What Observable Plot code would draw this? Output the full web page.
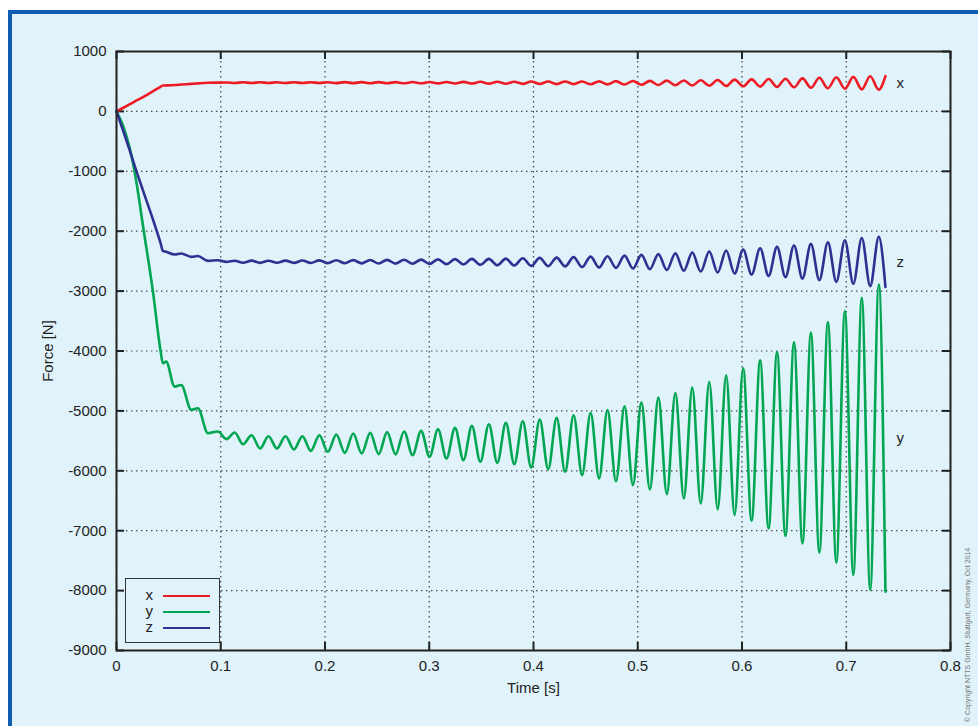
<!DOCTYPE html>
<html>
<head>
<meta charset="utf-8">
<script src="https://cdn.jsdelivr.net/npm/d3@7"></script>
<script src="https://cdn.jsdelivr.net/npm/@observablehq/plot@0.6"></script>
<style>
html, body { margin:0; padding:0; background:#fff; }
#page { position:relative; width:978px; height:726px; overflow:hidden; font-family:"Liberation Sans", Arial, Helvetica, sans-serif; color:#222; }
#panel { position:absolute; left:8px; top:10px; width:1100px; height:900px; border:4px solid #0e5db0; background:#e0f2fa; box-sizing:border-box; }
#chart { position:absolute; left:0; top:0; }
#legend { position:absolute; left:125px; top:578px; width:95px; height:65px; box-sizing:border-box; border:1px solid #333; background:#e0f2fa; }
.lrow { position:absolute; left:0; width:93px; height:16px; }
.llab { position:absolute; left:0; width:27px; text-align:right; font-size:15px; line-height:16px; top:-1px; }
.lline { position:absolute; left:37px; width:47px; top:7px; height:2.6px; }
#copy { position:absolute; left:963px; top:722px; transform-origin:0 0; transform:rotate(-90deg); font-size:7px; color:#777; white-space:nowrap; line-height:9px; }
</style>
</head>
<body>
<div id="page">
  <div id="panel"></div>
  <div id="chart"></div>
  <div id="legend"></div>
  <div id="copy">© Copyright NTTS GmbH, Stuttgart, Germany, Oct 2014</div>
</div>
<script>
const seriesNames = ["x", "y", "z"];
const seriesColors = ["#ed1c24", "#00a651", "#2e3192"];

const xTicks = [0, 0.1, 0.2, 0.3, 0.4, 0.5, 0.6, 0.7, 0.8];
const yTicks = [1000, 0, -1000, -2000, -3000, -4000, -5000, -6000, -7000, -8000, -9000];

const time = [
  0, 0.0065, 0.0125, 0.0173, 0.0262, 0.0349, 0.0423, 0.0445, 0.0477, 0.0557, 0.0621, 0.0717, 0.0781, 0.0877, 0.0973, 0.1054,
  0.1133, 0.1214, 0.1296, 0.1377, 0.1458, 0.1539, 0.1621, 0.1702, 0.1783, 0.1864,
  0.1946, 0.2027, 0.2109, 0.2190, 0.2271, 0.2352, 0.2434, 0.2515, 0.2596, 0.2677,
  0.2759, 0.2840, 0.2922, 0.3003, 0.3084, 0.3165, 0.3247, 0.3328, 0.3409, 0.3490,
  0.3572, 0.3653, 0.3735, 0.3816, 0.3897, 0.3978, 0.4060, 0.4141, 0.4222, 0.4303,
  0.4385, 0.4466, 0.4548, 0.4629, 0.4710, 0.4791, 0.4873, 0.4954, 0.5035, 0.5116,
  0.5198, 0.5279, 0.5361, 0.5442, 0.5523, 0.5604, 0.5686, 0.5767, 0.5848, 0.5929,
  0.6011, 0.6092, 0.6174, 0.6255, 0.6336, 0.6417, 0.6499, 0.6580, 0.6661, 0.6742,
  0.6824, 0.6905, 0.6987, 0.7068, 0.7149, 0.7230, 0.7312, 0.7376
];

const forceX = [
  0, 61, 118, 163, 247, 336, 411, 432, 434, 440, 448, 460, 468, 478, 481, 482,
  474, 486, 474, 486, 474, 486, 473, 487, 473, 487,
  473, 487, 472, 488, 472, 488, 471, 489, 471, 489,
  470, 490, 469, 491, 468, 492, 467, 493, 465, 494,
  464, 495, 462, 496, 460, 498, 458, 498, 456, 500,
  456, 500, 454, 502, 451, 505, 448, 508, 444, 510,
  440, 514, 437, 517, 433, 521, 429, 525, 424, 530,
  420, 534, 414, 540, 408, 546, 402, 552, 395, 561,
  387, 569, 378, 576, 368, 588, 362, 588
];

const forceY = [
  0, -250, -600, -1000, -2000, -3000, -4000, -4206, -4178, -4594, -4567, -4983, -4956, -5372, -5344, -5472,
  -5361, -5556, -5406, -5628, -5422, -5628, -5422, -5644, -5422, -5667,
  -5406, -5683, -5394, -5700, -5378, -5711, -5367, -5722, -5355, -5725,
  -5344, -5739, -5333, -5767, -5306, -5794, -5283, -5822, -5250, -5850,
  -5222, -5867, -5200, -5889, -5172, -5944, -5144, -5978, -5117, -6017,
  -5072, -6072, -5033, -6128, -4984, -6175, -4922, -6239, -4856, -6311,
  -4778, -6389, -4700, -6461, -4611, -6544, -4517, -6644, -4406, -6739,
  -4289, -6833, -4156, -6961, -4017, -7089, -3856, -7211, -3694, -7367,
  -3517, -7533, -3333, -7739, -3111, -7989, -2889, -8017
];

const forceZ = [
  0, -330, -640, -900, -1360, -1800, -2200, -2328, -2344, -2389, -2372, -2428, -2415, -2495, -2485, -2512,
  -2494, -2526, -2492, -2528, -2493, -2527, -2492, -2528, -2490, -2530,
  -2487, -2533, -2485, -2535, -2483, -2537, -2481, -2539, -2479, -2541,
  -2477, -2543, -2474, -2546, -2470, -2550, -2467, -2555, -2462, -2560,
  -2462, -2568, -2458, -2572, -2451, -2579, -2446, -2584, -2441, -2589,
  -2432, -2598, -2425, -2605, -2417, -2613, -2407, -2623, -2395, -2635,
  -2382, -2648, -2370, -2660, -2356, -2674, -2340, -2690, -2323, -2707,
  -2305, -2725, -2284, -2746, -2262, -2768, -2238, -2792, -2212, -2818,
  -2184, -2846, -2152, -2878, -2113, -2917, -2095, -2932
];

const seriesValues = [forceX, forceY, forceZ];
const n = time.length;

const W = 978, H = 726, mL = 116, mR = 28, mT = 51, mB = 76;
const innerW = W - mL - mR, innerH = H - mT - mB;
const tickLen = 8;

const gridStyle = {stroke: "#444", strokeDasharray: "1.4,3.6", strokeWidth: 1.2};
const tickStyle = {stroke: "#222", strokeWidth: 2};

const lineMarks = seriesNames.map((name, i) =>
  Plot.line(time, {
    x: (d) => d,
    y: (d, j) => seriesValues[i][j],
    stroke: seriesColors[i],
    strokeWidth: 2.6,
    curve: "monotone-x",
    strokeLinejoin: "round",
    strokeLinecap: "round"
  })
);

const chart = Plot.plot({
  width: W,
  height: H,
  marginLeft: mL,
  marginRight: mR,
  marginTop: mT,
  marginBottom: mB,
  style: {background: "transparent", fontFamily: "'Liberation Sans', Arial, Helvetica, sans-serif", fontSize: "15px", color: "#222", maxWidth: "none", overflow: "visible"},
  x: {domain: [0, 0.8]},
  y: {domain: [-9000, 1000]},
  marks: [
    Plot.ruleX(xTicks, {x: (d) => d, ...gridStyle}),
    Plot.ruleY(yTicks, {y: (d) => d, ...gridStyle}),
    Plot.ruleX(xTicks, {x: (d) => d, insetTop: innerH - tickLen, ...tickStyle}),
    Plot.ruleX(xTicks, {x: (d) => d, insetBottom: innerH - tickLen, ...tickStyle}),
    Plot.ruleY(yTicks, {y: (d) => d, insetRight: innerW - tickLen, ...tickStyle}),
    Plot.ruleY(yTicks, {y: (d) => d, insetLeft: innerW - tickLen, ...tickStyle}),
    ...lineMarks,
    Plot.frame({stroke: "#222", strokeWidth: 2}),
    Plot.axisX(xTicks, {tickSize: 0, tickPadding: 10, tickFormat: (d) => String(d), label: "Time [s]", labelAnchor: "center", labelOffset: 42, labelArrow: "none", fontSize: 15}),
    Plot.axisY(yTicks, {tickSize: 0, tickPadding: 10, tickFormat: (d) => String(d), label: "Force [N]", labelAnchor: "center", labelOffset: 74, labelArrow: "none", fontSize: 15}),
    Plot.text(seriesNames, {
      x: () => time[n - 1],
      y: (d, i) => (seriesValues[i][n - 2] + seriesValues[i][n - 1]) / 2,
      text: (d) => d,
      dx: 11,
      textAnchor: "start",
      fill: "#222",
      fontSize: 15
    })
  ]
});
document.getElementById("chart").appendChild(chart);

const legend = document.getElementById("legend");
seriesNames.forEach((name, i) => {
  const row = document.createElement("div");
  row.className = "lrow";
  row.style.top = (8.5 + 16 * i) + "px";
  const lab = document.createElement("div");
  lab.className = "llab";
  lab.textContent = name;
  const ln = document.createElement("div");
  ln.className = "lline";
  ln.style.background = seriesColors[i];
  row.appendChild(lab);
  row.appendChild(ln);
  legend.appendChild(row);
});
</script>
</body>
</html>
